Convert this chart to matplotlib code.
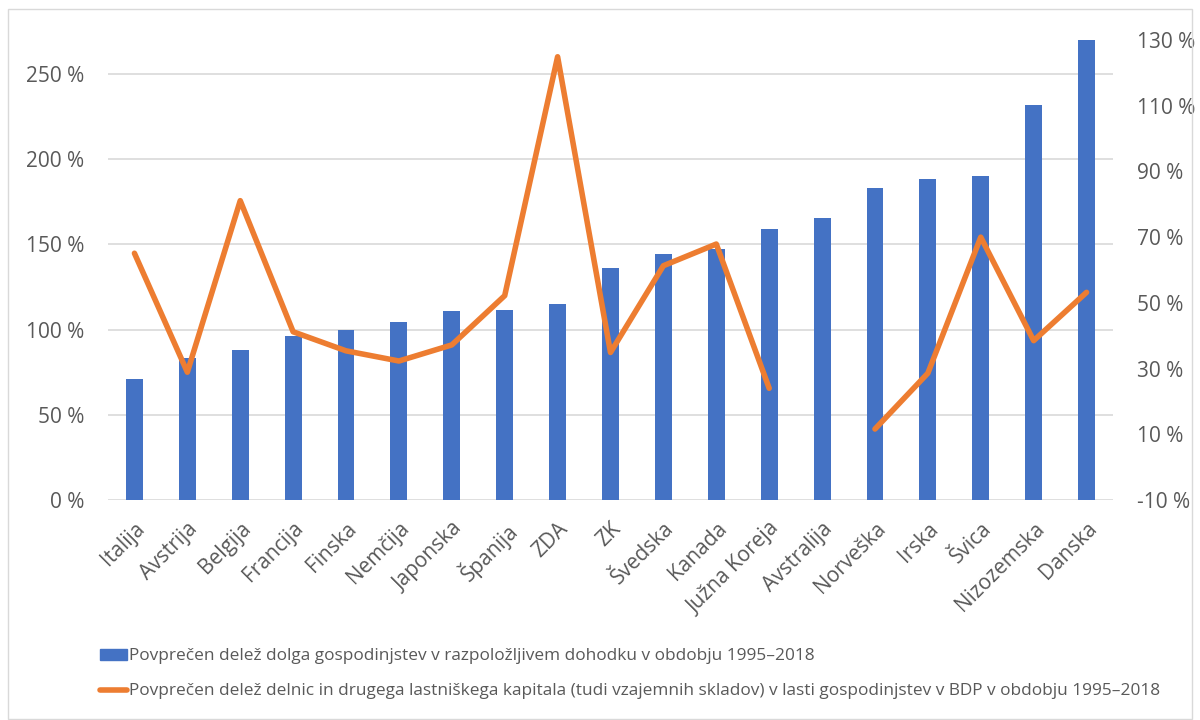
import numpy as np
import matplotlib.pyplot as plt
from matplotlib.patches import Rectangle
from matplotlib.lines import Line2D
from matplotlib.ticker import FuncFormatter

plt.rcParams['font.family'] = ['Open Sans', 'DejaVu Sans']

# data
countries = ['Italija', 'Avstrija', 'Belgija', 'Francija', 'Finska', 'Nemčija',
             'Japonska', 'Španija', 'ZDA', 'ZK', 'Švedska', 'Kanada', 'Južna Koreja',
             'Avstralija', 'Norveška', 'Irska', 'Švica', 'Nizozemska', 'Danska']
debt = [70.8, 83.1, 87.9, 96.0, 99.5, 104.3, 110.8, 111.6, 115.3, 136.4,
        144.6, 147.1, 159.3, 165.5, 183.3, 188.6, 189.9, 231.9, 270.2]
equity = [65.1, 28.9, 81.1, 41.2, 35.4, 32.3, 37.2, 52.2, 124.9, 34.9,
          61.3, 67.9, 24.0, np.nan, 11.6, 28.6, 70.0, 38.5, 53.2]

label_debt = 'Povprečen delež dolga gospodinjstev v razpoložljivem dohodku v obdobju 1995–2018'
label_eq = ('Povprečen delež delnic in drugega lastniškega kapitala (tudi vzajemnih skladov) '
            'v lasti gospodinjstev v BDP v obdobju 1995–2018')

blue = '#4472C4'
orange = '#ED7D31'
grey = '#595959'

fig = plt.figure(figsize=(12, 7.2), dpi=100)
ax = fig.add_axes([108/1200, 1-500/720, (1113-108)/1200, 460/720])
x = np.arange(len(countries))
ax.bar(x, debt, width=0.32, color=blue, zorder=2)
ax.set_xlim(-0.5, len(countries)-0.5)
ax.set_ylim(0, 270)
ax.set_yticks([0, 50, 100, 150, 200, 250])
ax.yaxis.set_major_formatter(FuncFormatter(lambda v, p: f'{v:.0f} %'))
ax.grid(axis='y', color='#D9D9D9', linewidth=1.2, zorder=0)
ax.set_axisbelow(True)
for s in ax.spines.values():
    s.set_visible(False)
ax.tick_params(axis='y', length=0, labelsize=15, colors=grey, pad=17)
ax.tick_params(axis='x', length=0, labelsize=15, colors=grey, pad=13)
ax.set_xticks(x)
ax.set_xticklabels(countries, rotation=45, ha='right', rotation_mode='anchor')

ax2 = ax.twinx()
ax2.plot(x, equity, color=orange, linewidth=4, solid_capstyle='round', zorder=3)
ax2.set_ylim(-10, 130)
ax2.set_yticks(np.arange(-10, 131, 20))
ax2.yaxis.set_major_formatter(FuncFormatter(lambda v, p: f'{v:.0f} %'))
for s in ax2.spines.values():
    s.set_visible(False)
ax2.tick_params(axis='y', length=0, labelsize=15, colors=grey, pad=17)

handles = [Rectangle((0, 0), 1, 1, color=blue),
           Line2D([0], [0], color=orange, linewidth=4, solid_capstyle='round')]
fig.legend(handles, [label_debt, label_eq], loc='upper left',
           bbox_to_anchor=(84/1200, 1-633/720), frameon=False, fontsize=12.4,
           labelcolor=grey, handlelength=1.6, handleheight=0.55, handletextpad=0.1,
           labelspacing=1.1)

fig.patches.append(Rectangle((8/1200, 0.002), 1-16/1200, 1-10/720, transform=fig.transFigure,
                             fill=False, edgecolor='#D9D9D9', linewidth=1))

fig.savefig('out.png', dpi=100)
